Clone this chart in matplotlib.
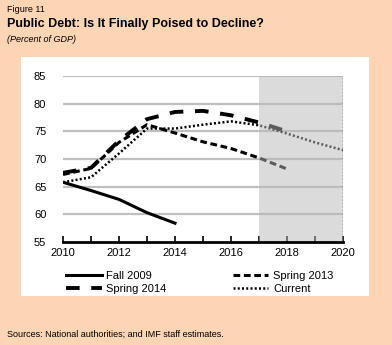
import matplotlib.pyplot as plt
from matplotlib.patches import Rectangle
from matplotlib.lines import Line2D

plt.rcParams['font.family'] = ['Liberation Sans', 'DejaVu Sans']

# 부채 전망 (GDP 대비 %)
fall2009_years = [2010, 2011, 2012, 2013, 2014]
fall2009 = [65.8, 64.3, 62.7, 60.3, 58.4]

spring2013_years = [2010, 2011, 2012, 2013, 2014, 2015, 2016, 2017, 2018]
spring2013 = [67.2, 68.3, 73.0, 76.2, 74.7, 73.1, 71.9, 70.2, 68.2]

spring2014_years = [2010, 2011, 2012, 2013, 2014, 2015, 2016, 2017, 2018]
spring2014 = [67.5, 68.4, 73.3, 77.2, 78.5, 78.7, 77.9, 76.6, 75.0]

current_years = [2010, 2011, 2012, 2013, 2014, 2015, 2016, 2017, 2018, 2019, 2020]
current = [65.8, 66.7, 71.0, 75.5, 75.5, 76.2, 76.8, 76.1, 74.6, 73.0, 71.6]

proj_start = 2017
y_ticks = [55, 60, 65, 70, 75, 80, 85]
x_ticks = [2010, 2012, 2014, 2016, 2018, 2020]

bg = '#fcd5b4'
fig = plt.figure(figsize=(3.92, 3.45), dpi=100, facecolor=bg)

# 흰색 패널
fig.patches.append(Rectangle((21 / 392, 1 - 296 / 345), 348 / 392, 239 / 345,
                             transform=fig.transFigure, facecolor='white',
                             edgecolor='none', zorder=-1))

ax = fig.add_axes([63 / 392, 1 - 242 / 345, 280 / 392, 166 / 345])
ax.set_zorder(1)
ax.set_facecolor('none')
ax.set_xlim(2010, 2020)
ax.set_ylim(55, 85)

for y in y_ticks[1:]:
    ax.axhline(y, color='#bfbfbf', lw=1.6, zorder=1)

ax.plot(fall2009_years, fall2009, color='black', lw=2.2, ls='-', zorder=3)
ax.plot(spring2013_years, spring2013, color='black', lw=2.2, ls=(0, (2.2, 1.2)), zorder=3)
ax.plot(spring2014_years, spring2014, color='black', lw=2.8, ls=(0, (3.5, 3)), zorder=3)
ax.plot(current_years, current, color='black', lw=1.8, ls=(0, (0.8, 0.9)), zorder=3)

# 전망 구간 음영
ax.axvspan(proj_start, 2020, facecolor='#b8b8b8', alpha=0.5, edgecolor='none', zorder=4)
ax.axvline(2020, color='black', lw=1, ls=(0, (1, 1.5)), zorder=5)

for s in ['top', 'right', 'left']:
    ax.spines[s].set_visible(False)
ax.spines['bottom'].set_linewidth(2)
ax.spines['bottom'].set_zorder(6)

ax.set_yticks(y_ticks)
ax.set_xticks(x_ticks)
ax.set_xticks(range(2011, 2020, 2), minor=True)
ax.tick_params(axis='y', length=0, labelsize=8, pad=12)
ax.tick_params(axis='x', which='both', direction='in', length=4, width=1.2,
               labelsize=8, pad=4)

handles = [
    Line2D([], [], color='black', lw=2.2, ls='-'),
    Line2D([], [], color='black', lw=2.8, ls=(0, (3.5, 3))),
    Line2D([], [], color='black', lw=2.2, ls=(0, (2.2, 1.2))),
    Line2D([], [], color='black', lw=1.8, ls=(0, (0.8, 0.9))),
]
labels = ['Fall 2009', 'Spring 2014', 'Spring 2013', 'Current']
fig.legend(handles, labels, ncol=2, loc='upper left',
           bbox_to_anchor=(56 / 392, 1 - 261 / 345), frameon=False,
           fontsize=8, handlelength=3.2, handletextpad=0.4,
           columnspacing=6.0, labelspacing=0.25)

fig.text(7 / 392, 1 - 9 / 345, 'Figure 11', fontsize=6.5, va='center')
fig.text(7 / 392, 1 - 24 / 345, 'Public Debt: Is It Finally Poised to Decline?',
         fontsize=9, fontweight='bold', va='center')
fig.text(7 / 392, 1 - 39 / 345, '(Percent of GDP)', fontsize=6.5,
         style='italic', va='center')
fig.text(7 / 392, 1 - 334 / 345, 'Sources: National authorities; and IMF staff estimates.',
         fontsize=6.5, va='center')

fig.savefig('out.png', dpi=100, facecolor=bg)
